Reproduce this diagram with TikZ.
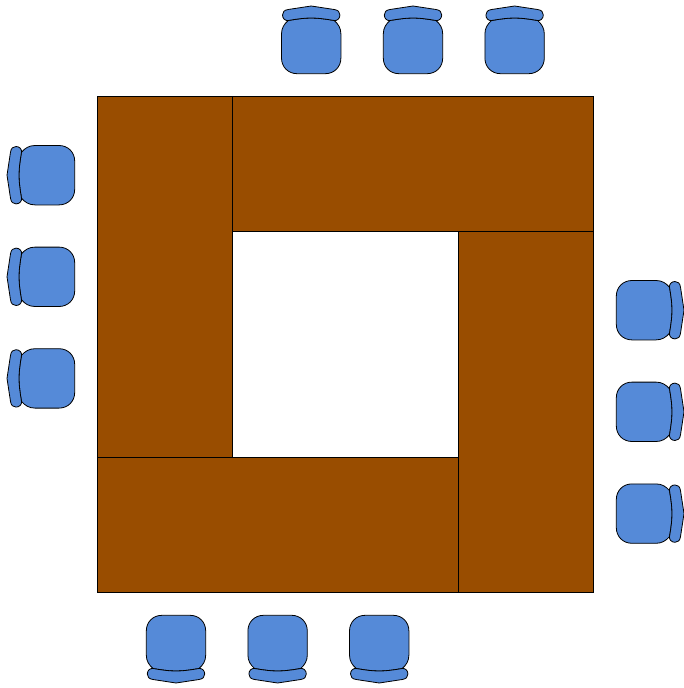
\documentclass[tikz,border=0pt]{standalone}
\definecolor{wood}{HTML}{994D00}
\definecolor{seatblue}{HTML}{558AD8}
\tikzset{tbl/.style={draw=black,fill=wood,line width=0.6pt,inner sep=0pt,outer sep=0pt}, wide/.style={tbl,minimum width=270.75pt,minimum height=101.25pt}, tall/.style={tbl,minimum width=101.25pt,minimum height=270.75pt}, cushion/.style={draw=black,fill=seatblue,line width=0.6pt,line join=round},
chair/.pic={
\draw[cushion] (-23,-25.5) .. controls (-27,-22) and (-29.7,-18) .. (-29.7,-12) -- (-29.7,12) .. controls (-29.7,21) and (-23,27.7) .. (-14,27.7) -- (14,27.7) .. controls (23,27.7) and (29.7,21) .. (29.7,12) -- (29.7,-12) .. controls (29.7,-18) and (27,-22) .. (23,-25.5) .. controls (14,-27) and (7,-28) .. (0,-28) .. controls (-7,-28) and (-14,-27) .. (-23,-25.5) -- cycle;
\draw[cushion] (0,-40) -- (23,-36.5) .. controls (27,-35.9) and (28.7,-34) .. (28.7,-31) .. controls (28.7,-27.5) and (26,-25) .. (23,-25.5) .. controls (14,-27) and (7,-28) .. (0,-28) .. controls (-7,-28) and (-14,-27) .. (-23,-25.5) .. controls (-26,-25) and (-28.7,-27.5) .. (-28.7,-31) .. controls (-28.7,-34) and (-27,-35.9) .. (-23,-36.5) -- cycle;
}}
\begin{document}
\begin{tikzpicture}[x=0.75pt,y=-0.75pt]
\useasboundingbox (0,0) rectangle (683,688);
\node[tall] (tblleft) at (164.5,276.5) {};
\node[wide] (tbltop) at (412.5,163.5) {};
\node[tall] (tblright) at (525.5,411.5) {};
\node[wide] (tblbottom) at (277.5,524.5) {};
\pic (topa) at (311.2,46) {chair};
\pic (topb) at (413,46) {chair};
\pic (topc) at (514.6,46) {chair};
\pic[rotate=90] (lefta) at (47,175.2) {chair};
\pic[rotate=90] (leftb) at (47,276.8) {chair};
\pic[rotate=90] (leftc) at (47,378.4) {chair};
\pic[rotate=-90] (righta) at (644,310.2) {chair};
\pic[rotate=-90] (rightb) at (644,411.8) {chair};
\pic[rotate=-90] (rightc) at (644,513.6) {chair};
\pic[rotate=180] (bota) at (176,643) {chair};
\pic[rotate=180] (botb) at (277.6,643) {chair};
\pic[rotate=180] (botc) at (379.2,643) {chair};
\end{tikzpicture}
\end{document}
